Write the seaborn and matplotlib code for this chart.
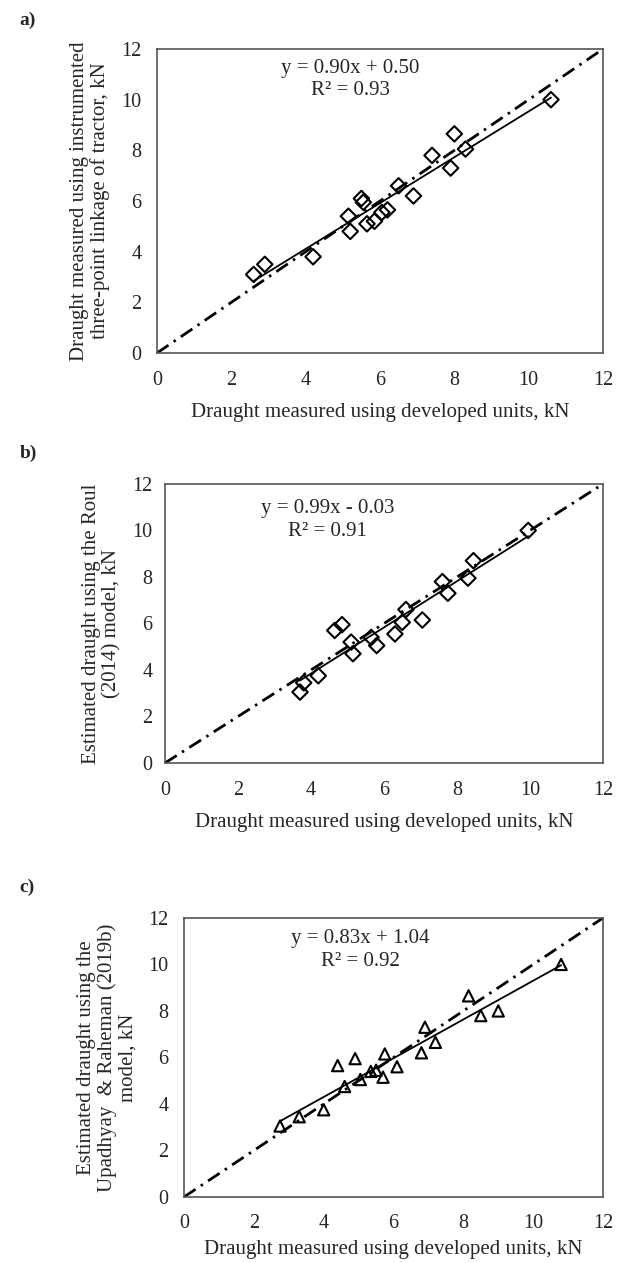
import numpy as np
import pandas as pd
import matplotlib
matplotlib.use("Agg")
import matplotlib.pyplot as plt
import seaborn as sns

# valores (kN)
a_x = [2.6, 2.9, 4.2, 5.15, 5.2, 5.5, 5.55, 5.65, 5.85, 6.05, 6.2, 6.5, 6.9, 7.4, 7.9, 8.0, 8.3, 10.6]
a_y = [3.1, 3.5, 3.8, 5.4, 4.8, 6.1, 5.95, 5.1, 5.2, 5.55, 5.65, 6.6, 6.2, 7.8, 7.3, 8.65, 8.05, 10.0]

b_x = [3.7, 3.8, 4.2, 4.65, 4.85, 5.1, 5.15, 5.65, 5.8, 6.3, 6.5, 6.6, 7.05, 7.6, 7.75, 8.3, 8.45, 9.95]
b_y = [3.05, 3.45, 3.75, 5.7, 5.95, 5.2, 4.7, 5.4, 5.05, 5.55, 6.05, 6.6, 6.15, 7.8, 7.3, 7.95, 8.7, 10.0]

c_x = [2.75, 3.3, 4.0, 4.4, 4.9, 4.6, 5.05, 5.35, 5.5, 5.75, 5.7, 6.1, 6.8, 6.9, 7.2, 8.15, 8.5, 9.0, 10.8]
c_y = [3.05, 3.45, 3.75, 5.65, 5.95, 4.75, 5.05, 5.4, 5.45, 6.15, 5.15, 5.6, 6.2, 7.3, 6.65, 8.65, 7.8, 8.0, 10.0]

ticks = [0, 2, 4, 6, 8, 10, 12]
linea_11 = [0, 12]

ecuaciones = ["y = 0.90x + 0.50\nR\u00b2 = 0.93",
              "y = 0.99x - 0.03\nR\u00b2 = 0.91",
              "y = 0.83x + 1.04\nR\u00b2 = 0.92"]
ylabels = ["Draught measured using instrumented\nthree-point linkage of tractor, kN",
           "Estimated draught using the Roul\n(2014) model, kN",
           "Estimated draught using the\nUpadhyay  & Raheman (2019b)\nmodel, kN"]
xlabel = "Draught measured using developed units, kN"
letras = ["a)", "b)", "c)"]

sns.set_theme(style="white")
plt.rcParams['font.family'] = ['Liberation Serif', 'DejaVu Serif']
plt.rcParams['lines.scale_dashes'] = False

fig = plt.figure(figsize=(6.2, 12.63), dpi=100)

# posiciones de los ejes [izq, abajo, ancho, alto]
cajas = [[0.2532, 0.7205, 0.7194, 0.2407],
         [0.2661, 0.3959, 0.7065, 0.2209],
         [0.2968, 0.0523, 0.6758, 0.2209]]
pos_eq = [(5.2, 10.8), (4.45, 10.45), (5.05, 10.63)]
pads_y = [11, 9, 11]
pads_x = [13, 13, 12]
pads_lab = [9, 9, 5]
letra_y = [0.9905, 0.6477, 0.304]

datos = [(a_x, a_y, "D", 62), (b_x, b_y, "D", 62), (c_x, c_y, "^", 66)]

for i, (xs, ys, marca, tam) in enumerate(datos):
    ax = fig.add_axes(cajas[i])
    df = pd.DataFrame({"x": xs, "y": ys})
    ax.plot(linea_11, linea_11, color="black", lw=2.0,
            linestyle=(0, (10, 4.5, 1.8, 4.5)), zorder=1)
    sns.regplot(data=df, x="x", y="y", ax=ax, ci=None, scatter=False,
                line_kws=dict(color="black", lw=1.3, zorder=2))
    sns.scatterplot(data=df, x="x", y="y", ax=ax, marker=marca, s=tam,
                    facecolors="none", edgecolor="black", linewidth=1.5, zorder=3)
    ax.set_xlim(0, 12)
    ax.set_ylim(0, 12)
    ax.set_xticks(ticks)
    ax.set_yticks(ticks)
    ax.tick_params(axis="both", length=0, labelsize=14.5)
    ax.tick_params(axis="y", pad=pads_y[i])
    ax.tick_params(axis="x", pad=pads_x[i])
    for s in ax.spines.values():
        s.set_visible(True)
        s.set_color("#555555")
        s.set_linewidth(1.2)
    ax.set_xlabel(xlabel, fontsize=15, labelpad=pads_lab[i])
    ax.set_ylabel(ylabels[i], fontsize=15, labelpad=8, linespacing=1.08)
    ax.text(pos_eq[i][0], pos_eq[i][1], ecuaciones[i], ha="center", va="center",
            fontsize=15, linespacing=1.25)
    fig.text(0.032, letra_y[i], letras[i], fontsize=14, fontweight="bold",
             ha="left", va="top")

fig.savefig("out.png", dpi=100)
